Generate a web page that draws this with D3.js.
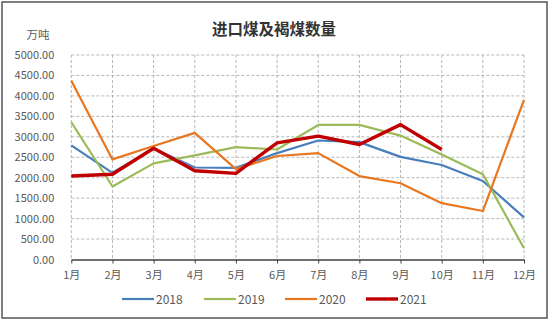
<!DOCTYPE html>
<html>
<head>
<meta charset="utf-8">
<script src="https://cdn.jsdelivr.net/npm/d3@7"></script>
<style>
  html, body { margin: 0; padding: 0; background: #fff; }
  svg { display: block; }
</style>
</head>
<body>
<svg id="chart" width="550" height="322"></svg>
<script>
// Monthly import volume of coal and lignite (万吨)
const months = ["1月","2月","3月","4月","5月","6月","7月","8月","9月","10月","11月","12月"];
const yTicks = [0, 500, 1000, 1500, 2000, 2500, 3000, 3500, 4000, 4500, 5000];

const v2018 = [2790, 2120, 2715, 2250, 2240, 2600, 2910, 2870, 2510, 2310, 1920, 1030];
const v2019 = [3355, 1785, 2350, 2545, 2747, 2690, 3290, 3290, 3030, 2570, 2085, 275];
const v2020 = [4370, 2447, 2775, 3096, 2210, 2530, 2600, 2040, 1865, 1378, 1185, 3905];
const v2021 = [2042, 2083, 2720, 2170, 2107, 2853, 3015, 2812, 3298, 2690];

const seriesNames = ["2018", "2019", "2020", "2021"];
const seriesValues = [v2018, v2019, v2020, v2021];
const seriesColors = ["#4a7ebb", "#9bbb59", "#e8771f", "#c00000"];
const seriesWidths = [2.2, 2.2, 2.2, 3.4];

const svg = d3.select("#chart");
const W = 550, H = 322;

// Outer frame
svg.append("rect")
  .attr("x", 2).attr("y", 2).attr("width", W - 5).attr("height", H - 6)
  .attr("fill", "#fff").attr("stroke", "#555").attr("stroke-width", 1.5);

const plot = { left: 71.3, right: 524, top: 55, bottom: 259.5 };

const x = d3.scalePoint().domain(months).range([plot.left, plot.right]);
const y = d3.scaleLinear().domain([0, 5000]).range([plot.bottom, plot.top]);

const textColor = "#595959";
const font = "'Noto Sans CJK SC', 'Noto Sans', sans-serif";

// Title and unit
svg.append("text")
  .attr("x", 274).attr("y", 34.5)
  .attr("text-anchor", "middle")
  .attr("font-family", font).attr("font-weight", "bold")
  .attr("font-size", 15.5).attr("fill", "#333")
  .text("进口煤及褐煤数量");

svg.append("text")
  .attr("x", 38).attr("y", 38.5)
  .attr("text-anchor", "middle")
  .attr("font-family", font).attr("font-size", 11.5).attr("fill", textColor)
  .text("万吨");

// Horizontal dashed gridlines
svg.append("g")
  .selectAll("line")
  .data(yTicks.filter(d => d > 0))
  .join("line")
  .attr("x1", plot.left).attr("x2", plot.right)
  .attr("y1", d => y(d)).attr("y2", d => y(d))
  .attr("stroke", "#a6a6a6").attr("stroke-width", 0.8)
  .attr("stroke-dasharray", "3,2");

// Vertical dashed gridlines
svg.append("g")
  .selectAll("line")
  .data(months)
  .join("line")
  .attr("x1", d => x(d)).attr("x2", d => x(d))
  .attr("y1", plot.top).attr("y2", plot.bottom)
  .attr("stroke", "#a6a6a6").attr("stroke-width", 0.8)
  .attr("stroke-dasharray", "3,2");

// Y axis labels
const yAxis = d3.axisLeft(y).tickValues(yTicks).tickSize(0).tickPadding(17)
  .tickFormat(d3.format(".2f"));
const gy = svg.append("g").attr("transform", `translate(${plot.left},0)`).call(yAxis);
gy.select(".domain").remove();
gy.selectAll("text")
  .attr("font-family", font).attr("font-size", 11).attr("fill", textColor);

// X axis
const xAxis = d3.axisBottom(x).tickSizeInner(4).tickSizeOuter(0).tickPadding(8);
const gx = svg.append("g").attr("transform", `translate(0,${plot.bottom})`).call(xAxis);
gx.select(".domain").attr("stroke", "#404040").attr("stroke-width", 1.3);
gx.selectAll(".tick line").attr("stroke", "#404040").attr("stroke-width", 1);
gx.selectAll("text")
  .attr("font-family", font).attr("font-size", 11).attr("fill", textColor);

// Series lines
const line = d3.line()
  .x((d, i) => x(months[i]))
  .y(d => y(d));

seriesValues.forEach((vals, k) => {
  svg.append("path")
    .datum(vals)
    .attr("d", line)
    .attr("fill", "none")
    .attr("stroke", seriesColors[k])
    .attr("stroke-width", seriesWidths[k])
    .attr("stroke-linejoin", "round")
    .attr("stroke-linecap", "butt");
});

// Legend
const legendX = [122, 204, 285, 366];
const legendY = 299;
const legend = svg.append("g");
seriesNames.forEach((name, k) => {
  legend.append("line")
    .attr("x1", legendX[k]).attr("x2", legendX[k] + 32)
    .attr("y1", legendY).attr("y2", legendY)
    .attr("stroke", seriesColors[k]).attr("stroke-width", seriesWidths[k]);
  legend.append("text")
    .attr("x", legendX[k] + 34).attr("y", legendY + 4.5)
    .attr("font-family", font).attr("font-size", 12).attr("fill", textColor)
    .text(name);
});
</script>
</body>
</html>
